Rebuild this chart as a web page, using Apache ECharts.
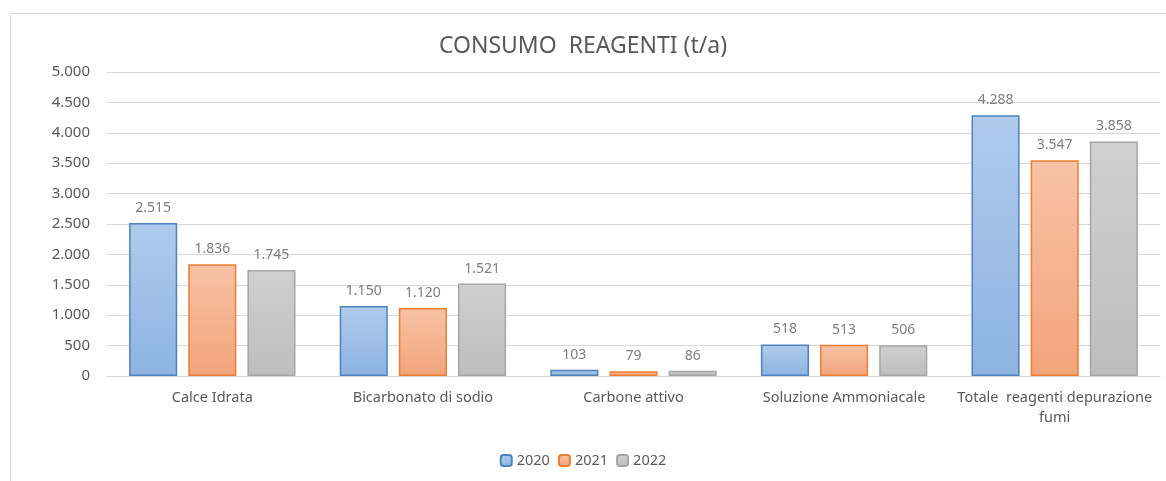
<!DOCTYPE html>
<html>
<head>
<meta charset="utf-8">
<script src="https://cdn.jsdelivr.net/npm/echarts@6/dist/echarts.min.js"></script>
<style>
  html, body { margin: 0; padding: 0; background: #fff; }
  #chart { width: 1166px; height: 481px; }
</style>
</head>
<body>
<div id="chart"></div>
<script>
// dati del grafico
const categories = ['Calce Idrata', 'Bicarbonato di sodio', 'Carbone attivo', 'Soluzione Ammoniacale', 'Totale  reagenti depurazione\nfumi'];
const years = ['2020', '2021', '2022'];
const values2020 = [2515, 1150, 103, 518, 4288];
const values2021 = [1836, 1120, 79, 513, 3547];
const values2022 = [1745, 1521, 86, 506, 3858];
const yTicks = [0, 500, 1000, 1500, 2000, 2500, 3000, 3500, 4000, 4500, 5000];

const seriesValues = [values2020, values2021, values2022];
const styles = [
    { top: '#aecbeb', bottom: '#8db3e2', border: '#4f81bd' },
    { top: '#f7c2a6', bottom: '#f3a47a', border: '#ed7d31' },
    { top: '#d0d0d0', bottom: '#bdbdbd', border: '#a5a5a5' }
];

const fmt = v => v.toLocaleString('it-IT').replace(/\u00a0/g, '.');

const chart = echarts.init(document.getElementById('chart'));
chart.setOption({
    textStyle: { fontFamily: 'Noto Sans' },
    graphic: [{
        type: 'rect',
        shape: { x: 10.5, y: 13.5, width: 1200, height: 520 },
        style: { fill: 'none', stroke: '#d9d9d9', lineWidth: 1 },
        silent: true
    }],
    title: {
        text: 'CONSUMO  REAGENTI (t/a)',
        left: 'center',
        top: 30,
        textStyle: { fontSize: 23, fontWeight: 'normal', color: '#595959', fontFamily: 'Noto Sans' }
    },
    legend: {
        data: years,
        bottom: 8,
        left: 'center',
        itemWidth: 11,
        itemHeight: 11,
        itemGap: 8,
        textStyle: { fontSize: 14.5, color: '#595959' }
    },
    grid: { left: 107, right: 6, top: 72, bottom: 105 },
    xAxis: {
        type: 'category',
        data: categories,
        axisLine: { lineStyle: { color: '#d9d9d9' } },
        axisTick: { show: false },
        axisLabel: { color: '#595959', fontSize: 14.5, margin: 12, interval: 0, lineHeight: 20 }
    },
    yAxis: {
        type: 'value',
        min: 0,
        max: yTicks[yTicks.length - 1],
        interval: 500,
        axisLine: { show: false },
        axisTick: { show: false },
        splitLine: { lineStyle: { color: '#d9d9d9' } },
        axisLabel: { color: '#595959', fontSize: 15, margin: 17, formatter: v => fmt(v) }
    },
    series: years.map((y, i) => ({
        name: y,
        type: 'bar',
        data: seriesValues[i],
        barGap: '23%',
        barCategoryGap: '21%',
        itemStyle: {
            color: new echarts.graphic.LinearGradient(0, 0, 0, 1, [
                { offset: 0, color: styles[i].top },
                { offset: 1, color: styles[i].bottom }
            ]),
            borderColor: styles[i].border,
            borderWidth: 1.5
        },
        label: {
            show: true,
            position: 'top',
            distance: 8,
            color: '#7f7f7f',
            fontSize: 14,
            formatter: p => fmt(p.value)
        }
    }))
});
</script>
</body>
</html>
